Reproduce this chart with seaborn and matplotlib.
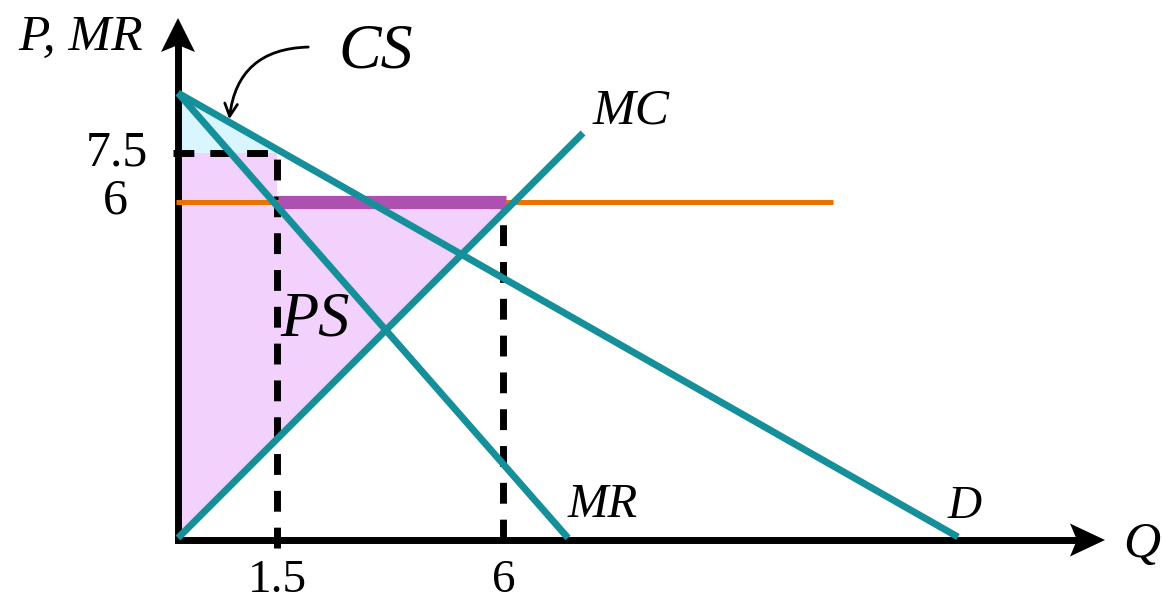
import matplotlib
matplotlib.use("Agg")
import matplotlib.pyplot as plt
import numpy as np
import pandas as pd
import seaborn as sns

# ---------------- data (schematic diagram units, 1 unit = 100 px) ----------------
curve_names = ["D", "MR", "MC"]
curve_q = [[0.00, 7.80], [0.00, 3.90], [0.00, 4.05]]
curve_p = [[4.47, 0.03], [4.47, 0.02], [0.02, 4.07]]

p_six = 3.38          # height of P = 6
p_seven_half = 3.87   # height of P = 7.5
q_one_half = 0.99     # position of Q = 1.5
q_six = 3.25          # position of Q = 6
orange_end = 6.55     # end of horizontal P = 6 line
purple_start = 1.00
purple_end = 3.28

y_tick_pos = [3.75, 3.26]
y_tick_labels = ["7.5", "6"]
x_tick_pos = [0.99, 3.26]
x_tick_labels = ["1.5", "6"]

# ---------------- style ----------------
sns.set_theme(style="white")
plt.rcParams['font.family'] = ['Liberation Serif', 'DejaVu Serif']
plt.rcParams['text.color'] = 'black'

TEAL = "#15909A"
ORANGE = "#EB7100"
PURPLE = "#AE50B1"
PINK = "#F3D1FD"
CYAN = "#D9F5FD"

fig = plt.figure(figsize=(11.62, 6.03), dpi=100)
ax = fig.add_axes([0, 0, 1, 1])
ax.set_xlim(-1.78, 9.84)
ax.set_ylim(-0.63, 5.40)
ax.set_axis_off()

def line_at(name, p):
    i = curve_names.index(name)
    q0, q1 = curve_q[i]
    p0, p1 = curve_p[i]
    return q0 + (p - p0) * (q1 - q0) / (p1 - p0)

# ---------------- filled areas ----------------
mc_at_six = line_at("MC", p_six)
ps_x = [0, 0, q_one_half, q_one_half, mc_at_six, curve_q[2][0]]
ps_y = [curve_p[2][0], p_seven_half, p_seven_half, p_six, p_six, curve_p[2][0]]
ax.fill(ps_x, ps_y, color=PINK, lw=0, zorder=1)

d_at_75 = line_at("D", p_seven_half)
cs_x = [0, d_at_75, 0]
cs_y = [curve_p[0][0], p_seven_half, p_seven_half]
ax.fill(cs_x, cs_y, color=CYAN, lw=0, zorder=1)

# ---------------- axes with arrows ----------------
ax.plot([0, 0], [0, 4.97], color="black", lw=5, solid_capstyle="projecting", zorder=3)
ax.plot([0, 8.97], [0, 0], color="black", lw=5, solid_capstyle="projecting", zorder=3)
ax.fill([0, -0.17, 0, 0.17], [5.22, 4.88, 4.95, 4.88], color="black", lw=0, zorder=3)
ax.fill([9.27, 8.92, 8.99, 8.92], [0, 0.165, 0, -0.165], color="black", lw=0, zorder=3)

# ---------------- dashed guides ----------------
dash_kw = dict(color="black", lw=5, ls=(0, (3.0, 2.3)), dash_capstyle="butt", zorder=2)
ax.plot([q_one_half, q_one_half], [-0.08, p_seven_half], **dash_kw)
ax.plot([-0.05, q_one_half], [p_seven_half, p_seven_half], **dash_kw)
ax.plot([q_six, q_six], [0, p_six], **dash_kw)

# ---------------- horizontal lines ----------------
ax.plot([-0.02, orange_end], [p_six, p_six], color=ORANGE, lw=3.6,
        solid_capstyle="butt", zorder=4)
ax.plot([purple_start, purple_end], [p_six, p_six], color=PURPLE, lw=9.5,
        solid_capstyle="butt", zorder=5)

# ---------------- curves via seaborn ----------------
rows = []
for name, qs, ps in zip(curve_names, curve_q, curve_p):
    for q, p in zip(qs, ps):
        rows.append({"curve": name, "Q": q, "P": p})
df = pd.DataFrame(rows)
sns.lineplot(data=df, x="Q", y="P", hue="curve", units="curve", estimator=None,
             palette={n: TEAL for n in curve_names}, lw=5.0, legend=False,
             sort=False, ax=ax, zorder=6)
for ln in ax.get_lines()[-3:]:
    ln.set_solid_capstyle("butt")
ax.set_xlabel("")
ax.set_ylabel("")
ax.set_xlim(-1.78, 9.84)
ax.set_ylim(-0.63, 5.40)

# ---------------- labels ----------------
it = dict(fontstyle="italic", color="black", va="baseline")
ax.text(-1.60, 4.90, "P, MR", fontsize=37, ha="left", **it)
ax.text(1.60, 4.72, "CS", fontsize=46, ha="left", **it)
ax.text(4.15, 4.17, "MC", fontsize=37, ha="left", **it)
ax.text(1.02, 2.05, "PS", fontsize=45, ha="left", **it)
ax.text(3.90, 0.23, "MR", fontsize=35, ha="left", **it)
ax.text(7.70, 0.22, "D", fontsize=34, ha="left", **it)
ax.text(9.45, -0.17, "Q", fontsize=37, ha="left", **it)

ax.text(-0.30, y_tick_pos[0], y_tick_labels[0], fontsize=36, ha="right",
        va="baseline", color="black")
ax.text(-0.50, y_tick_pos[1], y_tick_labels[1], fontsize=36, ha="right",
        va="baseline", color="black")
for xp, lab in zip(x_tick_pos, x_tick_labels):
    ax.text(xp, -0.52, lab, fontsize=34, ha="center", va="baseline", color="black")

# CS pointer
ax.annotate("", xy=(0.51, 4.18), xytext=(1.33, 4.93),
            arrowprops=dict(arrowstyle="->,head_length=0.75,head_width=0.38",
                            connectionstyle="arc3,rad=0.45", lw=2.0, color="black"),
            zorder=7)

fig.savefig("out.png", dpi=100)
